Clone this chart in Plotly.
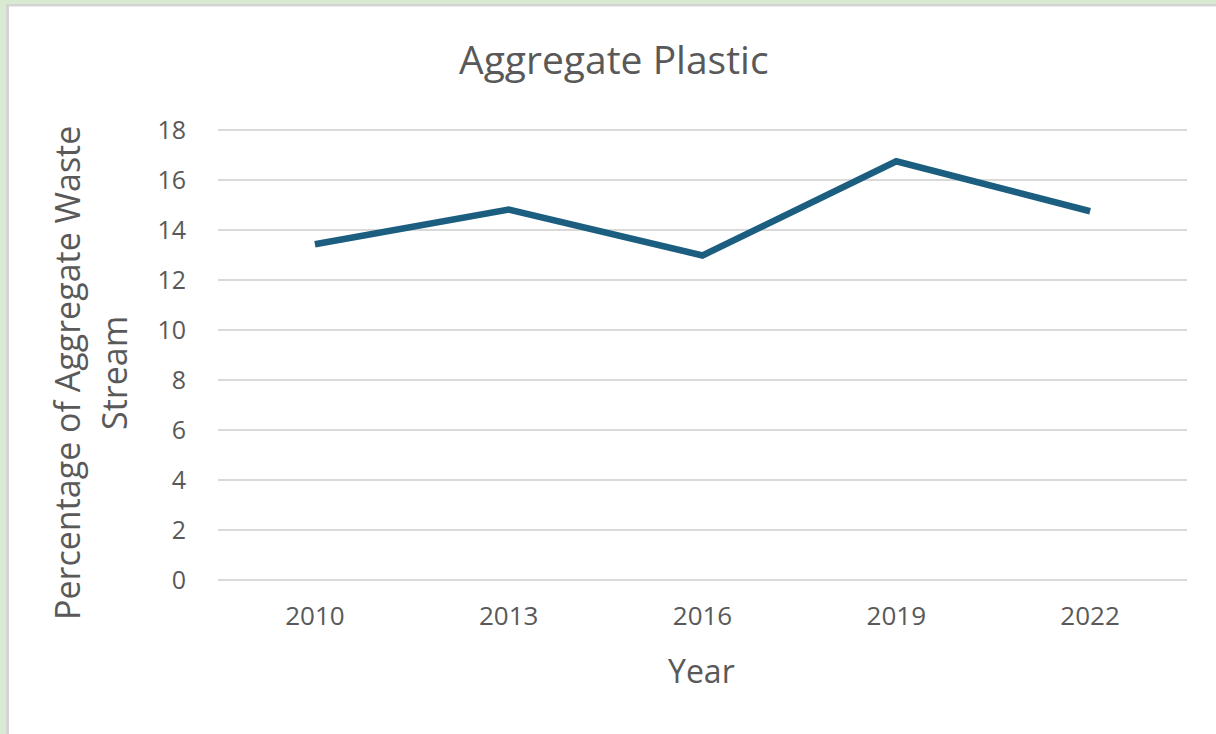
import plotly.graph_objects as go

years = ["2010", "2013", "2016", "2019", "2022"]
plastic_pct = [13.43, 14.82, 12.98, 16.75, 14.75]
y_ticks = [0, 2, 4, 6, 8, 10, 12, 14, 16, 18]

W, H = 1216, 734
L, R, T, B = 218, 29, 125, 149
pw, ph = W - L - R, H - T - B


def px_x(px):
    return (px - L) / pw


def px_y(py):
    return (H - B - py) / ph


FONT = "Open Sans"
TXT = "#595959"

fig = go.Figure()
fig.add_trace(go.Scatter(
    x=years, y=plastic_pct, mode="lines",
    line=dict(color="#1b5e80", width=6.5),
    hoverinfo="x+y",
))

fig.update_layout(
    width=W, height=H,
    margin=dict(l=L, r=R, t=T, b=B),
    paper_bgcolor="white", plot_bgcolor="white",
    showlegend=False,
    font=dict(family=FONT, color=TXT),
    xaxis=dict(
        type="category", range=[-0.5, 4.5],
        showgrid=False, showline=False, zeroline=False,
        ticks="outside", ticklen=8, tickcolor="rgba(0,0,0,0)",
        tickfont=dict(size=26, color=TXT, family=FONT),
    ),
    yaxis=dict(
        range=[-0.2, 18.2], tickvals=y_ticks,
        showgrid=True, gridcolor="#d9d9d9", gridwidth=2,
        zeroline=False, showline=False,
        ticks="outside", ticklen=26, tickcolor="rgba(0,0,0,0)",
        tickfont=dict(size=25, color=TXT, family=FONT),
    ),
    annotations=[
        dict(text="Aggregate Plastic", xref="paper", yref="paper",
             x=px_x(614), y=px_y(59), showarrow=False,
             xanchor="center", yanchor="middle",
             font=dict(size=39, color=TXT, family=FONT)),
        dict(text="Year", xref="paper", yref="paper",
             x=px_x(701), y=px_y(670), showarrow=False,
             xanchor="center", yanchor="middle",
             font=dict(size=32, color=TXT, family=FONT)),
        dict(text="Percentage of Aggregate Waste", xref="paper", yref="paper",
             x=px_x(67), y=px_y(373), showarrow=False, textangle=-90,
             xanchor="center", yanchor="middle",
             font=dict(size=34, color=TXT, family=FONT)),
        dict(text="Stream", xref="paper", yref="paper",
             x=px_x(114), y=px_y(373), showarrow=False, textangle=-90,
             xanchor="center", yanchor="middle",
             font=dict(size=34, color=TXT, family=FONT)),
    ],
    shapes=[
        dict(type="rect", xref="paper", yref="paper",
             x0=px_x(0), x1=px_x(W), y0=px_y(0), y1=px_y(4),
             fillcolor="#d9ead3", line=dict(width=0), layer="above"),
        dict(type="rect", xref="paper", yref="paper",
             x0=px_x(0), x1=px_x(6), y0=px_y(0), y1=px_y(H),
             fillcolor="#d9ead3", line=dict(width=0), layer="above"),
        dict(type="rect", xref="paper", yref="paper",
             x0=px_x(6), x1=px_x(W), y0=px_y(4), y1=px_y(6.5),
             fillcolor="#d4d4d4", line=dict(width=0), layer="above"),
        dict(type="rect", xref="paper", yref="paper",
             x0=px_x(6), x1=px_x(9), y0=px_y(4), y1=px_y(H),
             fillcolor="#d4d4d4", line=dict(width=0), layer="above"),
    ],
)

fig.write_html("out.html")
